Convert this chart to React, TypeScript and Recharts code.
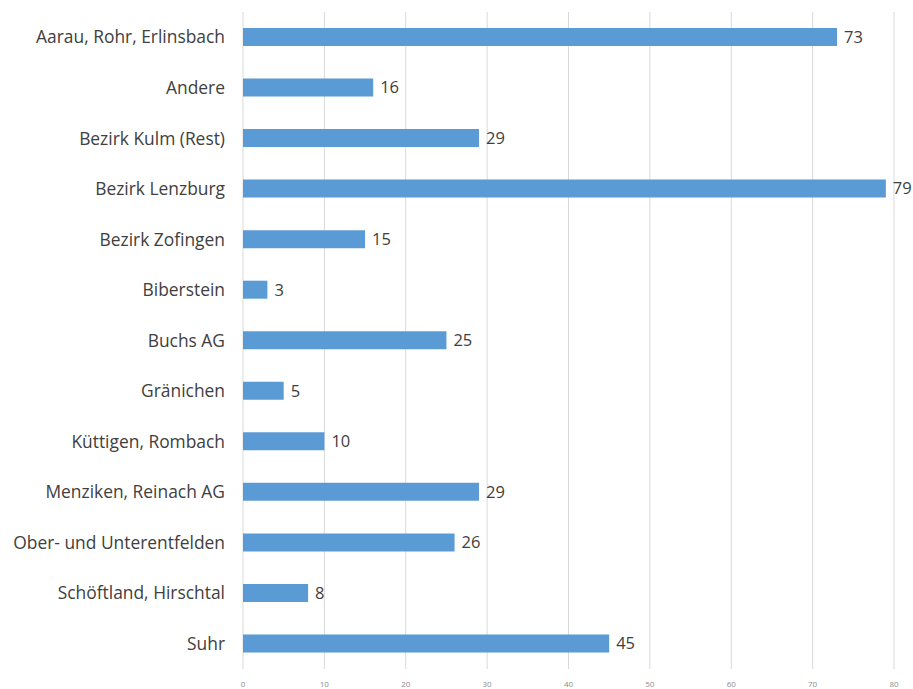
import React from "react";
import { BarChart, Bar, XAxis, YAxis, CartesianGrid, LabelList } from "recharts";

const categories = [
  "Aarau, Rohr, Erlinsbach",
  "Andere",
  "Bezirk Kulm (Rest)",
  "Bezirk Lenzburg",
  "Bezirk Zofingen",
  "Biberstein",
  "Buchs AG",
  "Gränichen",
  "Küttigen, Rombach",
  "Menziken, Reinach AG",
  "Ober- und Unterentfelden",
  "Schöftland, Hirschtal",
  "Suhr",
];
const values = [73, 16, 29, 79, 15, 3, 25, 5, 10, 29, 26, 8, 45];
const xTicks = [0, 10, 20, 30, 40, 50, 60, 70, 80];

const data = categories.map((name, i) => ({ name, value: values[i] }));

export default function App() {
  return (
    <div style={{ position: "absolute", left: 0, top: 0, background: "#fff" }}>
      <BarChart
        width={913}
        height={689}
        data={data}
        layout="vertical"
        margin={{ top: 12, right: 19, bottom: 0, left: 0 }}
      >
        <CartesianGrid horizontal={false} stroke="#d9d9d9" strokeWidth={1} />
        <XAxis
          type="number"
          domain={[0, 80]}
          ticks={xTicks}
          axisLine={false}
          tickLine={false}
          tickSize={0}
          tickMargin={12}
          height={20}
          tick={{ fontSize: 8, fill: "#8c8c8c", fontFamily: "Open Sans" }}
        />
        <YAxis
          type="category"
          dataKey="name"
          width={243}
          axisLine={false}
          tickLine={false}
          tickSize={0}
          tickMargin={18}
          interval={0}
          tick={{ fontSize: 17.4, fill: "#404040", fontFamily: "Open Sans" }}
        />
        <Bar dataKey="value" fill="#5b9bd5" barSize={18} isAnimationActive={false}>
          <LabelList
            dataKey="value"
            position="right"
            offset={7}
            style={{ fontSize: 16.5, fill: "#404040", fontFamily: "Open Sans" }}
          />
        </Bar>
      </BarChart>
    </div>
  );
}
